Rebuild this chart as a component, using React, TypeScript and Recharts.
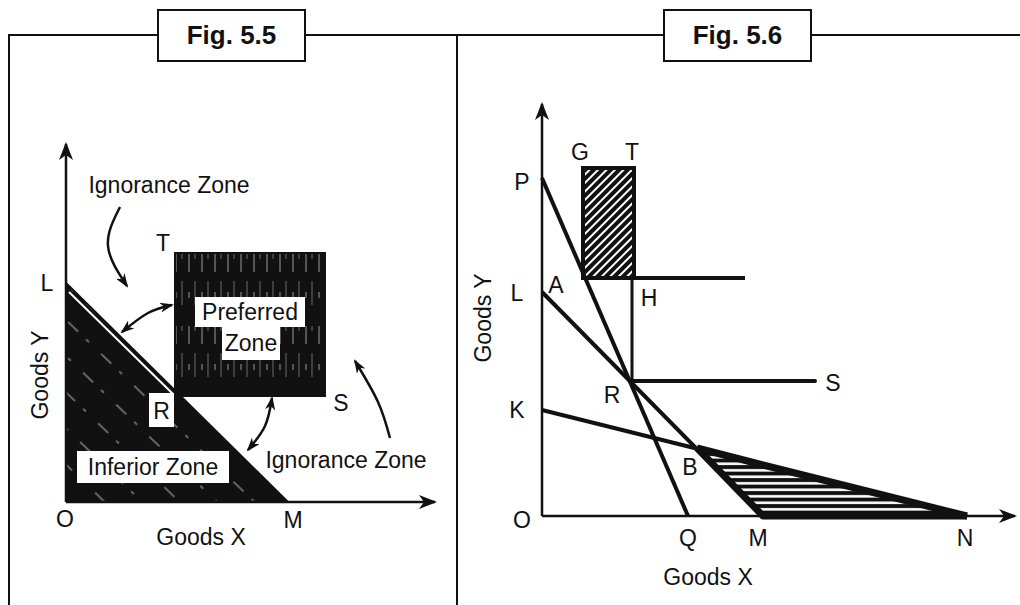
import React from 'react';
import { ComposedChart, XAxis, YAxis, Line, Area, ReferenceArea, Scatter } from 'recharts';

// Diagram units: origin at O, roughly 10px per unit.

// ---- Fig. 5.5 ----
const f55XAxis = [{ x: 0, y: 0 }, { x: 36.9, y: 0 }];
const f55YAxis = [{ x: 0, y: 0 }, { x: 0, y: 35.8 }];
const f55BudgetLM = [{ x: 0, y: 21.9 }, { x: 22.2, y: 0 }];
const f55InnerLine = [{ x: 0.3, y: 21.0 }, { x: 10.7, y: 10.8 }];
const f55TopArrow = [{ x: 5.4, y: 29.5 }, { x: 4.2, y: 25.6 }, { x: 6.1, y: 21.6 }];
const f55UpperLink = [{ x: 5.6, y: 17.0 }, { x: 8.2, y: 18.9 }, { x: 10.6, y: 19.7 }];
const f55LowerLink = [{ x: 20.6, y: 10.4 }, { x: 19.9, y: 7.6 }, { x: 18.2, y: 5.2 }];
const f55SideArrow = [{ x: 32.4, y: 6.4 }, { x: 31.2, y: 10.0 }, { x: 28.9, y: 14.1 }];
const f55Preferred = { x1: 10.9, x2: 25.9, y1: 10.6, y2: 24.9 };
const f55WhiteBoxes = [
  { x1: 8.3, x2: 10.8, y1: 7.5, y2: 10.9 },
  { x1: 1.1, x2: 16.3, y1: 1.9, y2: 5.1 },
  { x1: 12.9, x2: 23.9, y1: 17.5, y2: 20.5 },
  { x1: 15.6, x2: 21.4, y1: 14.2, y2: 17.5 },
];
const f55Labels = [
  { x: -1.9, y: 21.9, text: 'L' },
  { x: 9.7, y: 25.9, text: 'T' },
  { x: 27.5, y: 9.9, text: 'S' },
  { x: 9.55, y: 9.1, text: 'R' },
  { x: -0.1, y: -1.7, text: 'O' },
  { x: 22.7, y: -1.8, text: 'M' },
  { x: 10.3, y: 31.7, text: 'Ignorance Zone' },
  { x: 28.0, y: 4.2, text: 'Ignorance Zone' },
  { x: 8.7, y: 3.5, text: 'Inferior Zone' },
  { x: 18.4, y: 19.0, text: 'Preferred' },
  { x: 18.5, y: 15.9, text: 'Zone' },
  { x: 13.5, y: -3.5, text: 'Goods X' },
  { x: -2.6, y: 12.7, text: 'Goods Y', rotate: true },
];

// ---- Fig. 5.6 ----
const f56XAxis = [{ x: 0, y: 0 }, { x: 47.3, y: 0 }];
const f56YAxis = [{ x: 0, y: 0 }, { x: 0, y: 41.2 }];
const f56LinePQ = [{ x: 0, y: 33.8 }, { x: 14.6, y: 0 }];
const f56LineLM = [{ x: 0, y: 22.4 }, { x: 22.1, y: 0 }];
const f56LineKN = [{ x: 0, y: 10.6 }, { x: 42.5, y: 0 }];
const f56ShelfTop = [{ x: 4.1, y: 23.8 }, { x: 20.3, y: 23.8 }];
const f56Vertical = [{ x: 9.0, y: 23.8 }, { x: 9.0, y: 13.5 }];
const f56LineRS = [{ x: 8.8, y: 13.5 }, { x: 27.3, y: 13.5 }];
const f56Triangle = [
  { x: 15.5, lo: 6.8, hi: 6.8 },
  { x: 22.1, lo: 0, hi: 5.1 },
  { x: 42.5, lo: 0, hi: 0 },
];
const f56RectGT = { x1: 4.1, x2: 9.2, y1: 23.8, y2: 34.8 };
const f56Labels = [
  { x: -2.0, y: 33.4, text: 'P' },
  { x: -2.5, y: 22.3, text: 'L' },
  { x: -2.5, y: 10.6, text: 'K' },
  { x: 1.4, y: 23.1, text: 'A' },
  { x: 3.8, y: 36.4, text: 'G' },
  { x: 9.0, y: 36.4, text: 'T' },
  { x: 10.7, y: 21.8, text: 'H' },
  { x: 7.0, y: 12.1, text: 'R' },
  { x: 29.1, y: 13.3, text: 'S' },
  { x: 14.8, y: 4.9, text: 'B' },
  { x: -2.0, y: -0.4, text: 'O' },
  { x: 14.6, y: -2.2, text: 'Q' },
  { x: 21.6, y: -2.2, text: 'M' },
  { x: 42.3, y: -2.2, text: 'N' },
  { x: 16.6, y: -6.1, text: 'Goods X' },
  { x: -5.9, y: 19.8, text: 'Goods Y', rotate: true },
];

const INK = '#111';
const FONT = '"Liberation Sans", Arial, Helvetica, sans-serif';

const renderText = (props: any) => {
  const { cx, cy, payload } = props;
  return (
    <text
      x={cx}
      y={cy}
      textAnchor="middle"
      dominantBaseline="central"
      fontFamily={FONT}
      fontSize={23}
      fill={INK}
      transform={payload.rotate ? `rotate(-90 ${cx} ${cy})` : undefined}
    >
      {payload.text}
    </text>
  );
};

function seg(key: string, data: any[], extra: any = {}) {
  return (
    <Line
      key={key}
      data={data}
      dataKey="y"
      type="linear"
      stroke={INK}
      strokeWidth={3}
      dot={false}
      activeDot={false}
      legendType="none"
      isAnimationActive={false}
      zIndex={400}
      {...extra}
    />
  );
}

function Panel({ left, top, width, height, xDomain, yDomain, children }: any) {
  return (
    <div style={{ position: 'absolute', left, top, width, height }}>
      <ComposedChart width={width} height={height} margin={{ top: 0, right: 0, bottom: 0, left: 0 }}>
        <XAxis type="number" dataKey="x" domain={xDomain} allowDataOverflow hide />
        <YAxis type="number" dataKey="y" domain={yDomain} allowDataOverflow hide />
        {children}
      </ComposedChart>
    </div>
  );
}

function FigBox({ left, label }: { left: number; label: string }) {
  return (
    <div
      style={{
        position: 'absolute',
        left,
        top: 9,
        width: 145,
        height: 49,
        border: `2px solid ${INK}`,
        background: '#fff',
        display: 'flex',
        alignItems: 'center',
        justifyContent: 'center',
        fontWeight: 'bold',
        fontSize: 26,
        color: INK,
      }}
    >
      {label}
    </div>
  );
}

export default function App() {
  return (
    <div
      style={{
        position: 'absolute',
        left: 0,
        top: 0,
        width: 1020,
        height: 605,
        background: '#fff',
        overflow: 'hidden',
        fontFamily: FONT,
      }}
    >
      {/* frame */}
      <div style={{ position: 'absolute', left: 8, top: 34, width: 1012, height: 2, background: INK }} />
      <div style={{ position: 'absolute', left: 8, top: 34, width: 2, height: 571, background: INK }} />
      <div style={{ position: 'absolute', left: 456, top: 34, width: 2, height: 571, background: INK }} />
      <FigBox left={157} label="Fig. 5.5" />
      <FigBox left={663} label="Fig. 5.6" />

      <Panel left={17} top={110} width={438} height={475} xDomain={[-4.9, 38.9]} yDomain={[-8.3, 39.2]}>
        <defs>
          <marker id="ax55" viewBox="0 0 18 14" refX="16" refY="7" markerWidth="18" markerHeight="14" markerUnits="userSpaceOnUse" orient="auto">
            <path d="M0,0 L18,7 L0,14 L5,7 Z" fill={INK} />
          </marker>
          <marker id="hd55" viewBox="0 0 14 10" refX="12" refY="5" markerWidth="14" markerHeight="10" markerUnits="userSpaceOnUse" orient="auto-start-reverse">
            <path d="M0,0 L14,5 L0,10 L4,5 Z" fill={INK} />
          </marker>
          <pattern id="inferiorFill" patternUnits="userSpaceOnUse" width="46" height="26" patternTransform="rotate(44)">
            <rect width="46" height="26" fill={INK} />
            <line x1="0" y1="13" x2="46" y2="13" stroke="#fff" strokeWidth="1.1" strokeDasharray="14 11 4 17" opacity="0.7" />
          </pattern>
          <pattern id="preferredFill" patternUnits="userSpaceOnUse" width="13" height="72">
            <rect width="13" height="72" fill={INK} />
            <line x1="3" y1="0" x2="3" y2="72" stroke="#9a9a9a" strokeWidth="1" strokeDasharray="18 20 6 28" />
            <line x1="9" y1="0" x2="9" y2="72" stroke="#6a6a6a" strokeWidth="1" strokeDasharray="5 22 24 21" />
          </pattern>
        </defs>
        <Area
          data={f55BudgetLM}
          dataKey="y"
          type="linear"
          baseValue={0}
          fill="url(#inferiorFill)"
          fillOpacity={1}
          stroke={INK}
          strokeWidth={2}
          dot={false}
          activeDot={false}
          legendType="none"
          isAnimationActive={false}
          zIndex={100}
        />
        <ReferenceArea {...f55Preferred} fill="url(#preferredFill)" fillOpacity={1} stroke={INK} strokeWidth={2} zIndex={150} />
        {f55WhiteBoxes.map((b, i) => (
          <ReferenceArea key={`wb${i}`} {...b} fill="#fff" fillOpacity={1} stroke="none" zIndex={200} />
        ))}
        {seg('inner', f55InnerLine, { stroke: '#fff', strokeWidth: 2, zIndex: 180 })}
        {seg('yaxis', f55YAxis, { strokeWidth: 2.5, markerEnd: 'url(#ax55)' })}
        {seg('xaxis', f55XAxis, { strokeWidth: 2.5, markerEnd: 'url(#ax55)' })}
        {seg('topArrow', f55TopArrow, { type: 'natural', strokeWidth: 2.5, markerEnd: 'url(#hd55)' })}
        {seg('upLink', f55UpperLink, { type: 'natural', strokeWidth: 2.5, markerStart: 'url(#hd55)', markerEnd: 'url(#hd55)' })}
        {seg('lowLink', f55LowerLink, { type: 'natural', strokeWidth: 2.5, markerStart: 'url(#hd55)', markerEnd: 'url(#hd55)' })}
        {seg('sideArrow', f55SideArrow, { type: 'natural', strokeWidth: 2.5, markerEnd: 'url(#hd55)' })}
        <Scatter data={f55Labels} dataKey="y" shape={renderText} legendType="none" isAnimationActive={false} zIndex={600} />
      </Panel>

      <Panel left={470} top={90} width={550} height={510} xDomain={[-7.2, 47.8]} yDomain={[-8.4, 42.6]}>
        <defs>
          <marker id="ax56" viewBox="0 0 18 14" refX="16" refY="7" markerWidth="18" markerHeight="14" markerUnits="userSpaceOnUse" orient="auto">
            <path d="M0,0 L18,7 L0,14 L5,7 Z" fill={INK} />
          </marker>
          <pattern id="gtHatch" patternUnits="userSpaceOnUse" width="6" height="6" patternTransform="rotate(-45)">
            <rect width="6" height="6" fill={INK} />
            <line x1="0" y1="3" x2="6" y2="3" stroke="#fff" strokeWidth="2" />
          </pattern>
          <pattern id="bmnStripes" patternUnits="userSpaceOnUse" width="10" height="6.5">
            <rect width="10" height="6.5" fill={INK} />
            <rect y="2" width="10" height="2.6" fill="#fff" />
          </pattern>
        </defs>
        <Area
          data={f56Triangle}
          dataKey={(d: any) => [d.lo, d.hi]}
          type="linear"
          fill="url(#bmnStripes)"
          fillOpacity={1}
          stroke={INK}
          strokeWidth={7}
          strokeLinejoin="round"
          dot={false}
          activeDot={false}
          legendType="none"
          isAnimationActive={false}
          zIndex={100}
        />
        <ReferenceArea {...f56RectGT} fill="url(#gtHatch)" fillOpacity={1} stroke={INK} strokeWidth={4} zIndex={150} />
        {seg('yaxis', f56YAxis, { strokeWidth: 2.5, markerEnd: 'url(#ax56)' })}
        {seg('xaxis', f56XAxis, { strokeWidth: 2.5, markerEnd: 'url(#ax56)' })}
        {seg('pq', f56LinePQ, { strokeWidth: 4 })}
        {seg('lm', f56LineLM, { strokeWidth: 4 })}
        {seg('kn', f56LineKN, { strokeWidth: 4 })}
        {seg('shelf', f56ShelfTop, { strokeWidth: 4 })}
        {seg('vert', f56Vertical, { strokeWidth: 3 })}
        {seg('rs', f56LineRS, { strokeWidth: 4, strokeLinecap: 'round' })}
        <Scatter data={f56Labels} dataKey="y" shape={renderText} legendType="none" isAnimationActive={false} zIndex={600} />
      </Panel>
    </div>
  );
}
